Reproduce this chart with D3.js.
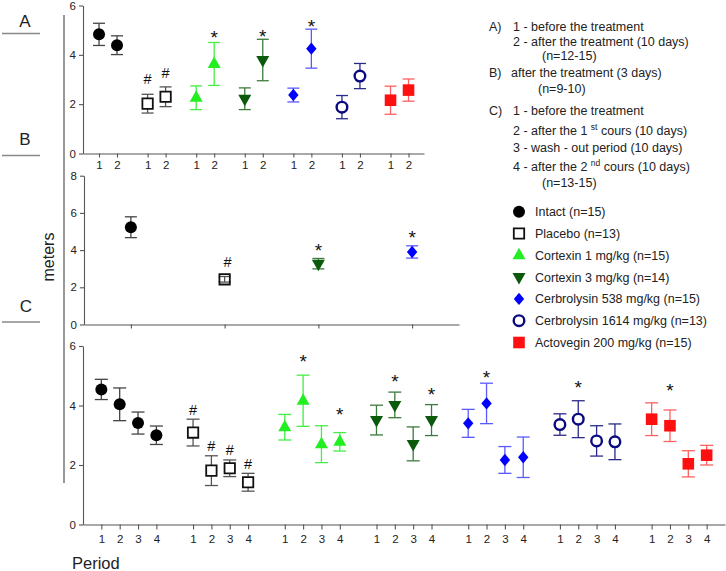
<!DOCTYPE html>
<html><head><meta charset="utf-8">
<script src="https://cdn.jsdelivr.net/npm/d3@7"></script>
<style>
body{margin:0;background:#fff}
svg{display:block}
text{font-family:"Liberation Sans",Arial,Helvetica,sans-serif}
</style>
</head><body>
<svg id="chart" width="726" height="571"></svg>
<script>
// ---------- DATA ----------
const groupNames = ["Intact (n=15)","Placebo (n=13)","Cortexin 1 mg/kg (n=15)","Cortexin 3 mg/kg (n=14)",
  "Cerbrolysin 538 mg/kg (n=15)","Cerbrolysin 1614 mg/kg (n=13)","Actovegin 200 mg/kg (n=15)"];
const periodsA = ["1","2"];
const periodsC = ["1","2","3","4"];
const yTicksA = [0,2,4,6];
const yTicksB = [0,2,4,6,8];
const yTicksC = [0,2,4,6];

// Panel A: mean and SEM, per group, per period (1,2)
const meanA = [[4.83,4.39],[2.02,2.30],[2.26,3.63],[2.22,3.79],[2.37,4.25],[1.88,3.14],[2.16,2.57]];
const semA  = [[0.45,0.38],[0.38,0.40],[0.48,0.87],[0.44,0.84],[0.28,0.79],[0.47,0.51],[0.57,0.45]];
const annotA = [{g:1,p:0,s:"#",v:3.01},{g:1,p:1,s:"#",v:3.29},{g:2,p:1,s:"*",v:4.87},{g:3,p:1,s:"*",v:4.94},{g:4,p:1,s:"*",v:5.34}];

// Panel B: only four groups
const groupsB = [0,1,3,4];
const meanB = [5.23,2.43,3.27,3.90];
const semB  = [0.56,0.15,0.28,0.33];
const annotB = [{i:1,s:"#",v:3.36},{i:2,s:"*",v:4.22},{i:3,s:"*",v:4.92}];

// Panel C: mean and SEM, per group, per period (1..4)
const meanC = [[4.54,4.04,3.41,3.00],[3.09,1.81,1.89,1.42],[3.27,4.16,2.70,2.78],[3.51,4.02,2.71,3.51],
  [3.40,4.07,2.17,2.26],[3.36,3.54,2.81,2.78],[3.54,3.32,2.04,2.33]];
const semC  = [[0.34,0.55,0.37,0.31],[0.45,0.50,0.28,0.30],[0.43,0.86,0.62,0.31],[0.50,0.43,0.57,0.52],
  [0.47,0.68,0.45,0.68],[0.36,0.62,0.51,0.60],[0.55,0.53,0.44,0.33]];
const annotC = [{g:1,p:0,s:"#",v:3.85},{g:1,p:1,s:"#",v:2.64},{g:1,p:2,s:"#",v:2.50},{g:1,p:3,s:"#",v:2.03},
  {g:2,p:1,s:"*",v:5.64},{g:2,p:3,s:"*",v:3.85},{g:3,p:1,s:"*",v:4.97},{g:3,p:3,s:"*",v:4.52},
  {g:4,p:1,s:"*",v:5.08},{g:5,p:1,s:"*",v:4.75},{g:6,p:1,s:"*",v:4.66}];

const panelLetters = ["A","B","C"];
const yLabel = "meters";
const xLabel = "Period";

// ---------- STYLES ----------
const styles = [
  {shape:"circle",  fill:"#000",    stroke:"none",    sw:0,   err:"#444"},
  {shape:"square",  fill:"#fff",    stroke:"#111",    sw:1.8, err:"#555"},
  {shape:"triUp",   fill:"#22ee22", stroke:"none",    sw:0,   err:"#44ee44"},
  {shape:"triDown", fill:"#0b5a0b", stroke:"none",    sw:0,   err:"#3d7a3d"},
  {shape:"diamond", fill:"#0000ff", stroke:"none",    sw:0,   err:"#5a5aff"},
  {shape:"ocircle", fill:"#fff",    stroke:"#0a0a80", sw:2.4, err:"#2a2a8a"},
  {shape:"rsquare", fill:"#ff1010", stroke:"none",    sw:0,   err:"#ff6060"}
];
function shapePath(shape){
  switch(shape){
    case "circle": { const p=d3.path(); p.arc(0,0,6,0,2*Math.PI); return p.toString(); }
    case "ocircle": { const p=d3.path(); p.arc(0,0,5.3,0,2*Math.PI); return p.toString(); }
    case "square": return "M-5.2,-5.2H5.2V5.2H-5.2Z";
    case "rsquare": return "M-5.8,-5.8H5.8V5.8H-5.8Z";
    case "triUp": return "M0,-7.5L6.5,4L-6.5,4Z";
    case "triDown": return "M0,7.5L6.5,-4L-6.5,-4Z";
    case "diamond": return "M0,-6.2L5.2,0L0,6.2L-5.2,0Z";
  }
}

const svg = d3.select("#chart");
const axisColor = "#555", textColor = "#222";

function styleAxis(g){
  g.selectAll("path,line").attr("stroke",axisColor).attr("stroke-width",1.1);
  g.selectAll("text").attr("fill",textColor).attr("font-size",11.5)
    .attr("font-family",'"Liberation Sans",Arial,sans-serif');
}

function drawPoint(g, x, y, sem, st, yScale, capHalf, fillOverride){
  const e = g.append("g");
  const y1 = yScale(y+sem), y2 = yScale(y-sem);
  e.append("line").attr("x1",x).attr("x2",x).attr("y1",y1).attr("y2",y2).attr("stroke",st.err).attr("stroke-width",1.3);
  e.append("line").attr("x1",x-capHalf).attr("x2",x+capHalf).attr("y1",y1).attr("y2",y1).attr("stroke",st.err).attr("stroke-width",1.3);
  e.append("line").attr("x1",x-capHalf).attr("x2",x+capHalf).attr("y1",y2).attr("y2",y2).attr("stroke",st.err).attr("stroke-width",1.3);
  g.append("path").attr("d",shapePath(st.shape)).attr("transform",`translate(${x},${yScale(y)})`)
    .attr("fill", fillOverride || st.fill).attr("stroke",st.stroke).attr("stroke-width",st.sw);
}
function drawAnnot(g, x, y, s){
  // y is glyph centre in px
  if(s==="*") g.append("text").attr("x",x).attr("y",y+11).attr("text-anchor","middle").attr("font-size",19).attr("fill","#111").text("*");
  else g.append("text").attr("x",x).attr("y",y+5.2).attr("text-anchor","middle").attr("font-size",14.5).attr("fill","#111").text("#");
}

// ---------- PANEL A ----------
const xA = d3.scaleLinear().domain([-0.89,18.06]).range([83,424]);
const yA = d3.scaleLinear().domain([0,6]).range([153.5,5.5]);
const idxA = (g,p)=> g*2.7 + p;
const gA = svg.append("g");
const tickIdxA = [], tickLabA = [];
meanA.forEach((row,g)=>row.forEach((v,p)=>{ tickIdxA.push(idxA(g,p)); tickLabA.push(periodsA[p]); }));
gA.append("g").attr("transform","translate(0,153.5)")
  .call(d3.axisBottom(xA).tickValues(tickIdxA).tickFormat((d,i)=>tickLabA[i]).tickSize(4).tickSizeOuter(0).tickPadding(3))
  .call(styleAxis);
gA.append("g").attr("transform","translate(83,0)")
  .call(d3.axisLeft(yA).tickValues(yTicksA).tickFormat(d3.format("d")).tickSize(4).tickSizeOuter(0).tickPadding(3))
  .call(styleAxis);
meanA.forEach((row,g)=>row.forEach((v,p)=>drawPoint(gA, xA(idxA(g,p)), v, semA[g][p], styles[g], yA, 6)));
annotA.forEach(a=>drawAnnot(gA, xA(idxA(a.g,a.p)), yA(a.v), a.s));

// ---------- PANEL B ----------
const xB = d3.scaleLinear().domain([0,8]).range([84,459]);
const yB = d3.scaleLinear().domain([0,8]).range([324.5,175.7]);
const gB = svg.append("g");
gB.append("g").attr("transform","translate(0,324.5)")
  .call(d3.axisBottom(xB).tickValues([1,3,5,7]).tickFormat("").tickSize(4).tickSizeOuter(0))
  .call(styleAxis);
gB.append("g").attr("transform","translate(84,0)")
  .call(d3.axisLeft(yB).tickValues(yTicksB).tickFormat(d3.format("d")).tickSize(4).tickSizeOuter(0).tickPadding(3))
  .call(styleAxis);
groupsB.forEach((g,i)=>drawPoint(gB, xB(2*i+1), meanB[i], semB[i], styles[g], yB, 6, styles[g].shape==="square"?"none":null));
annotB.forEach(a=>drawAnnot(gB, xB(2*a.i+1)+(a.s==="#"?3:0), yB(a.v), a.s));

// ---------- PANEL C ----------
const xC = d3.scaleLinear().domain([-1,34]).range([83,725]);
const yC = d3.scaleLinear().domain([0,6]).range([524.5,346]);
const idxC = (g,p)=> g*5 + p;
const gC = svg.append("g");
const tickIdxC = [], tickLabC = [];
meanC.forEach((row,g)=>row.forEach((v,p)=>{ tickIdxC.push(idxC(g,p)); tickLabC.push(periodsC[p]); }));
gC.append("g").attr("transform","translate(0,524.5)")
  .call(d3.axisBottom(xC).tickValues(tickIdxC).tickFormat((d,i)=>tickLabC[i]).tickSize(5).tickSizeOuter(0).tickPadding(5))
  .call(styleAxis);
gC.append("g").attr("transform","translate(83,0)")
  .call(d3.axisLeft(yC).tickValues(yTicksC).tickFormat(d3.format("d")).tickSize(4).tickSizeOuter(0).tickPadding(3))
  .call(styleAxis);
meanC.forEach((row,g)=>row.forEach((v,p)=>drawPoint(gC, xC(idxC(g,p)), v, semC[g][p], styles[g], yC, 6.5)));
annotC.forEach(a=>drawAnnot(gC, xC(idxC(a.g,a.p)), yC(a.v), a.s));

// ---------- LEFT DECORATION ----------
const letterPos = [[25,27],[25,145],[26,312]];
const linePos = [33.5,155.5,322];
panelLetters.forEach((L,i)=>{
  svg.append("text").attr("x",letterPos[i][0]).attr("y",letterPos[i][1]).attr("text-anchor","middle")
    .attr("font-size",17).attr("fill",textColor).text(L);
  svg.append("line").attr("x1",2).attr("x2",40).attr("y1",linePos[i]).attr("y2",linePos[i])
    .attr("stroke","#888").attr("stroke-width",1.4);
});
svg.append("line").attr("x1",64).attr("x2",64).attr("y1",15).attr("y2",483).attr("stroke","#999").attr("stroke-width",2);
svg.append("text").attr("transform","translate(54,257) rotate(-90)").attr("text-anchor","middle")
  .attr("font-size",16).attr("fill",textColor).text(yLabel);
svg.append("text").attr("x",72).attr("y",569).attr("font-size",16.5).attr("fill",textColor).text(xLabel);

// ---------- NOTES ----------
const notes = svg.append("g").attr("font-size",12.5).attr("fill",textColor);
function note(x,y,s){ notes.append("text").attr("x",x).attr("y",y).text(s); }
function noteSup(x,y,a,sup,b){
  const t = notes.append("text").attr("x",x).attr("y",y);
  t.append("tspan").text(a);
  t.append("tspan").attr("font-size",8.5).attr("dy",-5).text(sup);
  t.append("tspan").attr("dy",5).text(b);
}
note(489,31,"A)"); note(513,31,"1 - before the treatment");
note(513,46,"2 - after the treatment (10 days)");
note(542,60,"(n=12-15)");
note(489,77,"B)"); note(511,77,"after the treatment (3 days)");
note(538,93,"(n=9-10)");
note(489,115,"C)"); note(513,115,"1 - before the treatment");
noteSup(513,135,"2 - after the 1 ","st"," cours (10 days)");
note(513,152,"3 - wash - out  period (10 days)");
noteSup(513,171,"4 - after the 2 ","nd"," cours (10 days)");
note(542,187,"(n=13-15)");

// ---------- LEGEND ----------
const leg = svg.append("g");
groupNames.forEach((n,i)=>{
  const y = 211.7 + i*21.8;
  leg.append("path").attr("d",shapePath(styles[i].shape)).attr("transform",`translate(519,${y})`)
    .attr("fill",styles[i].fill).attr("stroke",styles[i].stroke).attr("stroke-width",styles[i].sw);
  leg.append("text").attr("x",535).attr("y",y+4.5).attr("font-size",12.5).attr("fill",textColor).text(n);
});
</script>
</body></html>
